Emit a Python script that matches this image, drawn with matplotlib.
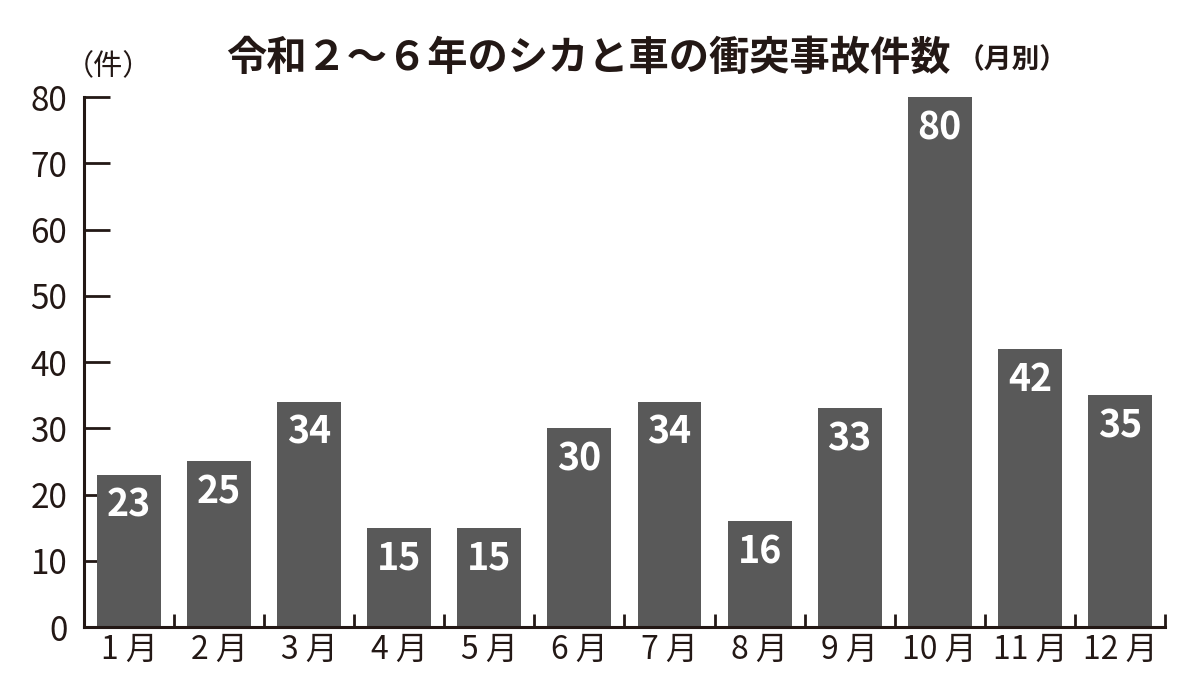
import numpy as np
import matplotlib
matplotlib.use("Agg")
from matplotlib import pyplot as plt

plt.rcParams['font.family'] = ['Noto Sans CJK JP', 'DejaVu Sans']

months = ["1 月", "2 月", "3 月", "4 月", "5 月", "6 月", "7 月", "8 月", "9 月", "10 月", "11 月", "12 月"]
counts = [23, 25, 34, 15, 15, 30, 34, 16, 33, 80, 42, 35]
yticks = [0, 10, 20, 30, 40, 50, 60, 70, 80]

fig = plt.figure(figsize=(12, 6.93), dpi=100)
ax = fig.add_axes([0.07, 0.0952, 0.9008, 0.7648])

x = np.arange(len(months))
bars = ax.bar(x, counts, width=0.71, color="#595959", zorder=2)

for xi, v in zip(x, counts):
    ax.annotate(str(v), (xi, v), xytext=(0, -22), textcoords="offset points",
                ha="center", va="center", color="white", fontsize=27, fontweight="bold")

ax.set_xlim(-0.5, 11.5)
ax.set_ylim(0, 80)
ax.set_yticks(yticks)
ax.set_yticklabels([str(t) for t in yticks], fontsize=24, color="#231815")
ax.set_xticks(x)
ax.set_xticklabels(months, fontsize=23, color="#231815")
ax.set_xticks(np.arange(0.5, 12, 1), minor=True)

ax.tick_params(axis="y", direction="in", length=19, width=2, color="#231815", pad=12)
ax.tick_params(axis="x", which="major", length=0, pad=5)
ax.tick_params(axis="x", which="minor", direction="in", length=9.5, width=2, color="#231815")

for s in ["top", "right"]:
    ax.spines[s].set_visible(False)
for s in ["left", "bottom"]:
    ax.spines[s].set_linewidth(2.2)
    ax.spines[s].set_color("#231815")

fig.text(0.09, 0.903, "（件）", fontsize=21, ha="center", va="center", color="#231815")
fig.text(0.792, 0.916, "令和２～６年のシカと車の衝突事故件数", fontsize=29, fontweight="bold",
         ha="right", va="center", color="#231815")
fig.text(0.797, 0.913, "（月別）", fontsize=20, fontweight="bold",
         ha="left", va="center", color="#231815")

fig.savefig("out.png", dpi=100)
